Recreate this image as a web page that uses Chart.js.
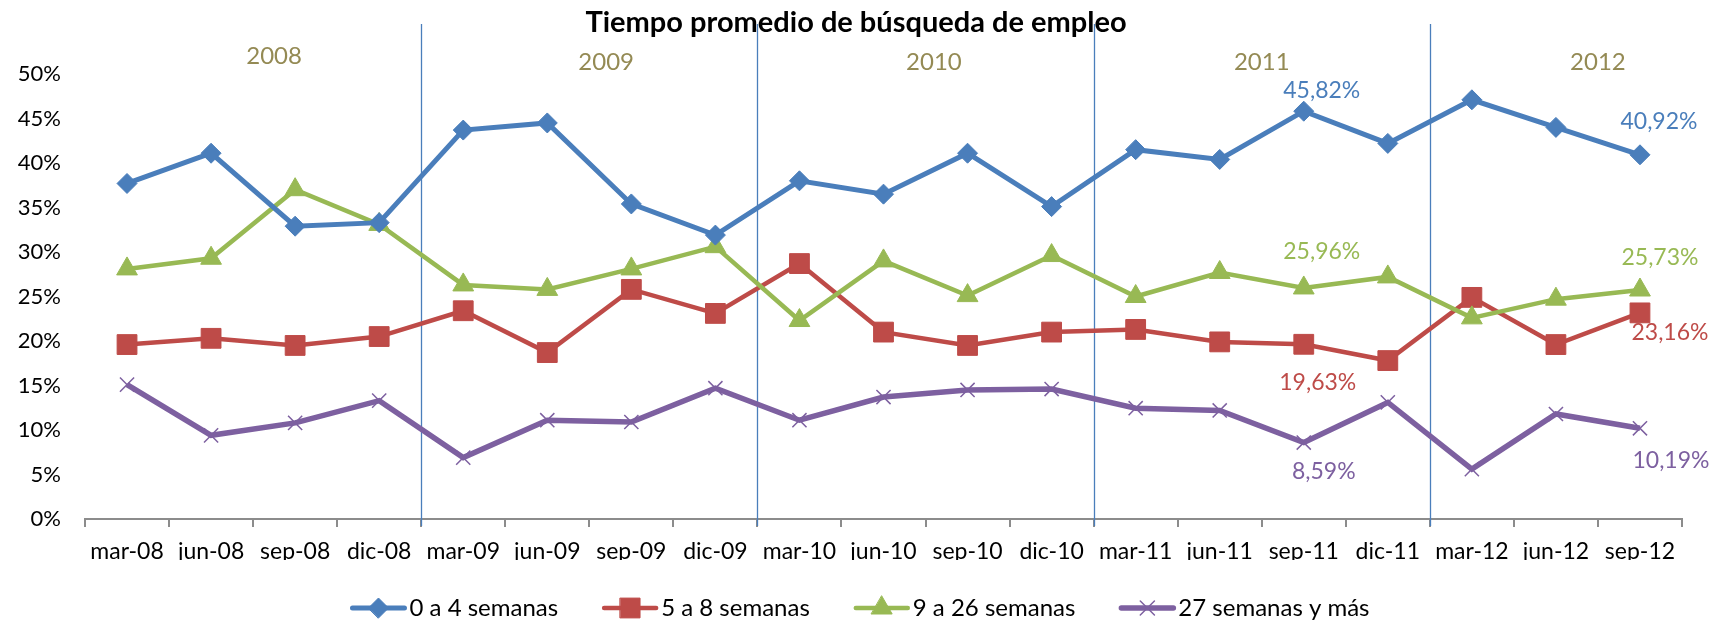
<!DOCTYPE html>
<html lang="es">
<head>
<meta charset="utf-8">
<title>Tiempo promedio de búsqueda de empleo</title>
<script src="https://cdn.jsdelivr.net/npm/chart.js@4.4.1/dist/chart.umd.min.js"></script>
<style>
  html, body { margin: 0; padding: 0; background: #fff; }
  #wrap { width: 1713px; height: 620px; }
</style>
</head>
<body>
<div id="wrap"><canvas id="chart"></canvas></div>
<script>
const periods = ['mar-08', 'jun-08', 'sep-08', 'dic-08', 'mar-09', 'jun-09', 'sep-09', 'dic-09',
  'mar-10', 'jun-10', 'sep-10', 'dic-10', 'mar-11', 'jun-11', 'sep-11', 'dic-11',
  'mar-12', 'jun-12', 'sep-12'];
const years = ['2008', '2009', '2010', '2011', '2012'];
const yTicks = [0, 5, 10, 15, 20, 25, 30, 35, 40, 45, 50];

const semanas0a4 = [37.7, 41.1, 32.9, 33.3, 43.7, 44.5, 35.4, 31.9, 38.0, 36.5, 41.1, 35.1,
  41.5, 40.4, 45.82, 42.2, 47.1, 44.0, 40.92];
const semanas5a8 = [19.6, 20.3, 19.5, 20.5, 23.4, 18.7, 25.8, 23.1, 28.7, 21.0, 19.5, 21.0,
  21.3, 19.9, 19.63, 17.8, 24.9, 19.6, 23.16];
const semanas9a26 = [28.1, 29.3, 37.0, 33.1, 26.3, 25.8, 28.1, 30.6, 22.3, 29.0, 25.1, 29.6,
  25.0, 27.7, 25.96, 27.2, 22.6, 24.7, 25.73];
const semanas27mas = [15.1, 9.4, 10.8, 13.3, 6.9, 11.1, 10.9, 14.7, 11.1, 13.7, 14.5, 14.6,
  12.45, 12.2, 8.59, 13.1, 5.6, 11.8, 10.19];

const seriesNames = ['0 a 4 semanas', '5 a 8 semanas', '9 a 26 semanas', '27 semanas y más'];
// which points carry a value label
const labelledPoints = [
  { series: 0, period: 'sep-11' }, { series: 0, period: 'sep-12' },
  { series: 2, period: 'sep-11' }, { series: 2, period: 'sep-12' },
  { series: 1, period: 'sep-11' }, { series: 1, period: 'sep-12' },
  { series: 3, period: 'sep-11' }, { series: 3, period: 'sep-12' },
];

const colors = ['#4A7EBB', '#BE4B48', '#98B954', '#7D60A0'];
const styles = [
  { pointStyle: 'rectRot', radius: 10, width: 5 },
  { pointStyle: 'rect', radius: 14, width: 4.5 },
  { pointStyle: 'triangle', radius: 12, width: 4.5 },
  { pointStyle: 'crossRot', radius: 10, width: 5.5 },
];
// label offsets from the point, px (per entry of labelledPoints)
const labelOffsets = [[18, -21], [19, -33], [18, -36], [20, -32], [14, 38], [30, 20], [20, 29], [31, 32]];
const FONT = 'Lato, "Open Sans", sans-serif';

const fmt = (v) => v.toFixed(2).replace('.', ',') + '%';

const decor = {
  id: 'decor',
  beforeDatasetsDraw(chart) {
    const { ctx, scales: { x }, chartArea } = chart;
    ctx.save();
    ctx.strokeStyle = '#4A7EBB';
    ctx.lineWidth = 1.3;
    // year separators between dic and mar
    periods.forEach((p, i) => {
      if (i > 0 && p.startsWith('mar')) {
        const px = Math.round((x.getPixelForValue(i - 1) + x.getPixelForValue(i)) / 2) + 0.5;
        ctx.beginPath();
        ctx.moveTo(px, 24);
        ctx.lineTo(px, chartArea.bottom + 7);
        ctx.stroke();
      }
    });
    ctx.restore();
  },
  afterDraw(chart) {
    const { ctx, scales: { x, y } } = chart;
    ctx.save();

    // title
    ctx.fillStyle = '#000';
    ctx.font = 'bold 29px ' + FONT;
    ctx.textAlign = 'center';
    ctx.textBaseline = 'alphabetic';
    ctx.fillText('Tiempo promedio de búsqueda de empleo', 856, 32);

    // year headers
    ctx.font = '24px ' + FONT;
    ctx.fillStyle = '#948A54';
    ctx.textBaseline = 'middle';
    const yearShift = [0.25, 0.2, 0.1, 0, 0.5];
    const yearY = [56, 62, 62, 62, 62];
    years.forEach((yr, k) => {
      const idx = periods.map((p, i) => (p.endsWith(yr.slice(2)) ? i : -1)).filter((i) => i >= 0);
      const mid = (idx[0] + idx[idx.length - 1]) / 2 + yearShift[k];
      const px = x.getPixelForValue(idx[0]) + (mid - idx[0]) * (x.getPixelForValue(1) - x.getPixelForValue(0));
      ctx.fillText(yr, px, yearY[k]);
    });

    // value labels
    ctx.font = '23px ' + FONT;
    labelledPoints.forEach((lp, k) => {
      const i = periods.indexOf(lp.period);
      const v = chart.data.datasets[lp.series].data[i];
      ctx.fillStyle = colors[lp.series];
      ctx.fillText(fmt(v), x.getPixelForValue(i) + labelOffsets[k][0], y.getPixelForValue(v) + labelOffsets[k][1]);
    });

    // legend
    ctx.font = '24px ' + FONT;
    ctx.textAlign = 'left';
    const lineLen = 56, gapText = 3, gapItem = 44;
    const widths = seriesNames.map((n) => ctx.measureText(n).width);
    const total = widths.reduce((s, w) => s + w + lineLen + gapText, 0) + gapItem * (seriesNames.length - 1);
    let lx = 860 - total / 2;
    const ly = 608;
    seriesNames.forEach((name, k) => {
      ctx.strokeStyle = colors[k];
      ctx.fillStyle = colors[k];
      ctx.lineWidth = styles[k].width;
      ctx.lineCap = 'round';
      ctx.beginPath();
      ctx.moveTo(lx + 2, ly);
      ctx.lineTo(lx + lineLen - 2, ly);
      ctx.stroke();
      ctx.lineWidth = k === 3 ? 1.5 : 1;
      Chart.helpers.drawPoint(ctx, { pointStyle: styles[k].pointStyle, radius: styles[k].radius, rotation: 0, borderWidth: ctx.lineWidth },
        lx + lineLen / 2, ly);
      ctx.fillStyle = '#000';
      ctx.fillText(name, lx + lineLen + gapText, ly);
      lx += lineLen + gapText + widths[k] + gapItem;
    });
    ctx.restore();
  },
};

const seriesData = [semanas0a4, semanas5a8, semanas9a26, semanas27mas];

new Chart(document.getElementById('chart'), {
  type: 'line',
  data: {
    labels: periods,
    datasets: seriesData.map((d, k) => ({
      label: seriesNames[k],
      data: d,
      borderColor: colors[k],
      backgroundColor: colors[k],
      borderWidth: styles[k].width,
      pointStyle: styles[k].pointStyle,
      pointRadius: styles[k].radius,
      pointHoverRadius: styles[k].radius,
      pointBorderWidth: k === 3 ? 1.5 : 1,
      pointBorderColor: colors[k],
      pointBackgroundColor: colors[k],
      tension: 0,
      order: [1, 2, 1.5, 3][k],
    })),
  },
  options: {
    responsive: true,
    maintainAspectRatio: false,
    animation: false,
    layout: { padding: { left: 0, top: 74, right: 31, bottom: 60 } },
    plugins: { legend: { display: false }, title: { display: false }, tooltip: { enabled: false } },
    scales: {
      x: {
        offset: true,
        grid: { display: true, drawOnChartArea: false, drawTicks: true, tickLength: 8, offset: true, color: '#8C8C8C', lineWidth: 2 },
        border: { display: true, color: '#8C8C8C', width: 2 },
        ticks: { color: '#000', font: { family: FONT, size: 23 }, padding: 11, autoSkip: false, maxRotation: 0 },
        afterFit: (scale) => { scale.height = 41; },
      },
      y: {
        min: 0,
        max: 50,
        afterBuildTicks: (scale) => { scale.ticks = yTicks.map((v) => ({ value: v })); },
        grid: { display: false },
        border: { display: false },
        ticks: { color: '#000', font: { family: FONT, size: 22 }, padding: 16, callback: (v) => v + '%' },
        afterFit: (scale) => { scale.width = 85; },
      },
    },
  },
  plugins: [decor],
});
</script>
</body>
</html>
